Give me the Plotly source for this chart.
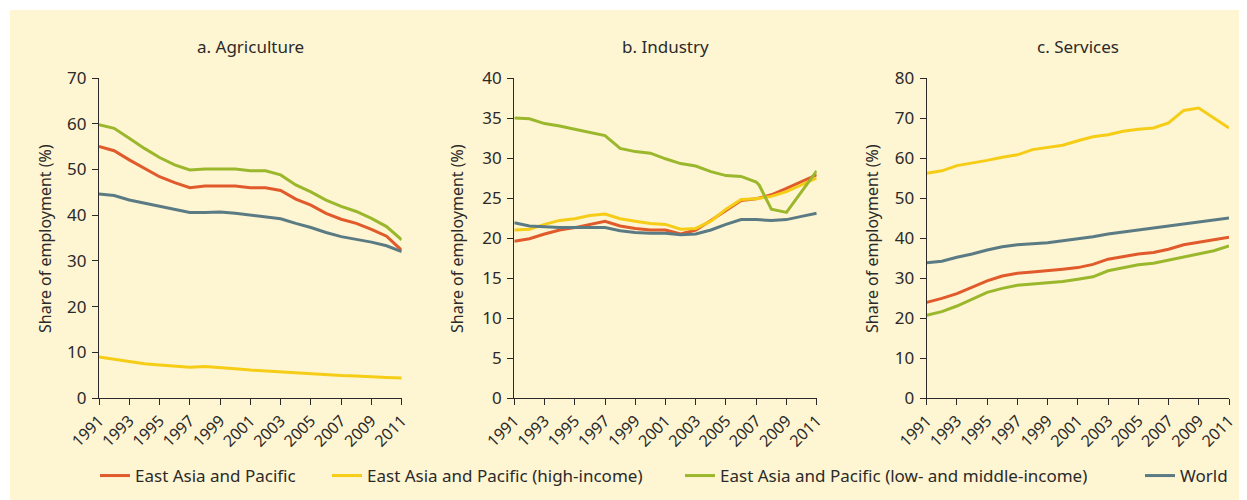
import plotly.graph_objects as go

years = list(range(1991, 2012))

# a. Agriculture
agr_eap = [55.0, 54.1, 52.1, 50.3, 48.4, 47.1, 46.0, 46.4, 46.4, 46.4, 46.0, 46.0, 45.4, 43.5, 42.2, 40.4, 39.1, 38.2, 36.9, 35.4, 32.3]
agr_hi = [9.0, 8.5, 7.9, 7.5, 7.2, 6.9, 6.7, 6.9, 6.7, 6.4, 6.1, 5.9, 5.6, 5.5, 5.3, 5.0, 4.9, 4.8, 4.6, 4.5, 4.4]
agr_lmi = [59.8, 59.0, 56.8, 54.6, 52.6, 51.0, 49.9, 50.1, 50.1, 50.1, 49.7, 49.7, 48.8, 46.6, 45.1, 43.3, 41.9, 40.8, 39.3, 37.5, 34.6]
agr_world = [44.6, 44.3, 43.3, 42.6, 41.9, 41.2, 40.6, 40.6, 40.7, 40.4, 40.0, 39.7, 39.2, 38.2, 37.3, 36.2, 35.3, 34.7, 34.1, 33.3, 32.0]

# b. Industry
ind_eap = [19.6, 19.9, 20.5, 21.0, 21.3, 21.7, 22.1, 21.5, 21.2, 21.0, 21.0, 20.5, 21.0, 22.2, 23.4, 24.7, 24.9, 25.4, 26.2, 27.0, 27.9]
ind_hi = [21.0, 21.1, 21.7, 22.2, 22.4, 22.8, 23.0, 22.4, 22.1, 21.8, 21.7, 21.1, 21.2, 22.1, 23.6, 24.8, 24.9, 25.2, 25.8, 26.7, 27.5]
ind_lmi_years = years[:17] + [2007.2, 2008, 2009, 2011]
ind_lmi = [35.0, 34.9, 34.3, 34.0, 33.6, 33.2, 32.8, 31.2, 30.8, 30.6, 29.9, 29.3, 29.0, 28.3, 27.8, 27.7, 27.0, 26.6, 23.6, 23.2, 28.4]
ind_world = [21.9, 21.5, 21.4, 21.3, 21.3, 21.3, 21.3, 20.9, 20.7, 20.6, 20.6, 20.4, 20.5, 21.0, 21.7, 22.3, 22.3, 22.2, 22.3, 22.7, 23.1]

# c. Services
ser_eap = [23.9, 24.9, 26.1, 27.6, 29.3, 30.5, 31.2, 31.5, 31.8, 32.2, 32.6, 33.4, 34.7, 35.3, 36.0, 36.4, 37.2, 38.3, 38.9, 39.6, 40.2]
ser_hi = [56.2, 56.8, 58.1, 58.7, 59.4, 60.2, 60.8, 62.1, 62.7, 63.2, 64.3, 65.3, 65.8, 66.7, 67.2, 67.5, 68.8, 71.9, 72.5, 70.0, 67.5]
ser_lmi = [20.7, 21.6, 23.0, 24.6, 26.4, 27.4, 28.2, 28.5, 28.8, 29.1, 29.7, 30.3, 31.8, 32.6, 33.3, 33.7, 34.5, 35.3, 36.0, 36.8, 38.0]
ser_world = [33.8, 34.2, 35.2, 36.0, 37.0, 37.8, 38.3, 38.5, 38.8, 39.3, 39.8, 40.3, 41.0, 41.5, 42.0, 42.5, 43.1, 43.6, 44.0, 44.5, 45.0]

series_names = ["East Asia and Pacific", "East Asia and Pacific (high-income)",
                "East Asia and Pacific (low- and middle-income)", "World"]
colors = ["#E15A2B", "#F6CD16", "#9BB72C", "#5B7B84"]
panel_titles = ["a. Agriculture", "b. Industry", "c. Services"]
y_max = [70, 40, 80]
y_dtick = [10, 5, 10]

# page body has an 8px margin, so the figure is drawn 8px in from the window edge
OFF = 8
W, H = 1247 - OFF, 500 - OFF
ML, MT = 99 - OFF, 78 - OFF
MR = int(round(W - (1229.3 - OFF)))
MB = H - (398 - OFF)
PW, PH = W - ML - MR, H - MT - MB

def px_x(p):  # screen pixel -> paper x
    return (p - OFF - ML) / PW

def px_y(p):  # screen pixel -> paper y
    return (H - MB - (p - OFF)) / PH

domains = [[0.0, px_x(401.7)], [px_x(514.3), px_x(816.7)], [px_x(926.7), 1.0]]
cream = "#FEF5D3"
ink = "#2B2A29"
font = "Noto Sans"

fig = go.Figure()

panels = [
    [(years, agr_eap), (years, agr_hi), (years, agr_lmi), (years, agr_world)],
    [(years, ind_eap), (years, ind_hi), (ind_lmi_years, ind_lmi), (years, ind_world)],
    [(years, ser_eap), (years, ser_hi), (years, ser_lmi), (years, ser_world)],
]
legend_ids = ["legend", "legend2", "legend3", "legend4"]
legend_x = [95, 327, 680, 1140]

for pi, panel in enumerate(panels):
    xa = "x" if pi == 0 else f"x{pi+1}"
    ya = "y" if pi == 0 else f"y{pi+1}"
    for si in range(4):
        xs, ys = panel[si]
        fig.add_trace(go.Scatter(
            x=xs, y=ys, mode="lines", name=series_names[si],
            line=dict(color=colors[si], width=3),
            xaxis=xa, yaxis=ya, showlegend=(pi == 0),
            legend=legend_ids[si],
        ))

for pi in range(3):
    sfx = "" if pi == 0 else str(pi + 1)
    fig.update_layout(**{
        f"xaxis{sfx}": dict(
            domain=domains[pi], range=[1991, 2011], tickvals=list(range(1991, 2012, 2)),
            tickangle=-45, ticks="outside", ticklen=6, tickcolor=ink, tickwidth=1.2,
            showline=True, linecolor=ink, linewidth=1.2, showgrid=False, zeroline=False,
            tickfont=dict(family=font, size=16, color=ink), anchor="y" + sfx,
            automargin=False,
        ),
        f"yaxis{sfx}": dict(
            domain=[0, 1], range=[0, y_max[pi]], dtick=y_dtick[pi],
            ticks="outside", ticklen=6, tickcolor=ink, tickwidth=1.2,
            showline=True, linecolor=ink, linewidth=1.2, showgrid=False, zeroline=False,
            tickfont=dict(family=font, size=17, color=ink), anchor="x" + sfx,
            ticklabelstandoff=2, automargin=False,
        ),
    })
    fig.add_annotation(
        text=panel_titles[pi], xref="paper", yref="paper",
        x=(domains[pi][0] + domains[pi][1]) / 2, y=px_y(47),
        xanchor="center", yanchor="middle", showarrow=False,
        font=dict(family=font, size=17, color=ink),
    )

ytitle_x = [45, 457, 872]
for pi in range(3):
    fig.add_annotation(
        text="Share of employment (%)", xref="paper", yref="paper",
        x=px_x(ytitle_x[pi]), y=px_y(239), textangle=-90,
        xanchor="center", yanchor="middle", showarrow=False,
        font=dict(family=font, size=16, color=ink),
    )

# white page border (top and left strip outside the cream panel)
fig.add_shape(type="rect", xref="paper", yref="paper",
              x0=px_x(0), x1=px_x(10), y0=px_y(505), y1=px_y(0),
              fillcolor="white", line_width=0, layer="below")
fig.add_shape(type="rect", xref="paper", yref="paper",
              x0=px_x(0), x1=px_x(1252), y0=px_y(10), y1=px_y(0),
              fillcolor="white", line_width=0, layer="below")

legend_common = dict(orientation="h", xanchor="left", yanchor="middle", y=px_y(476),
                     font=dict(family=font, size=17, color=ink), bgcolor="rgba(0,0,0,0)",
                     itemwidth=30)
fig.update_layout(
    width=W, height=H,
    margin=dict(l=ML, r=MR, t=MT, b=MB, autoexpand=False),
    paper_bgcolor=cream, plot_bgcolor=cream,
    font=dict(family=font, color=ink),
    showlegend=True,
    legend=dict(x=px_x(legend_x[0]), **legend_common),
    legend2=dict(x=px_x(legend_x[1]), **legend_common),
    legend3=dict(x=px_x(legend_x[2]), **legend_common),
    legend4=dict(x=px_x(legend_x[3]), **legend_common),
)

fig.write_html("out.html")
